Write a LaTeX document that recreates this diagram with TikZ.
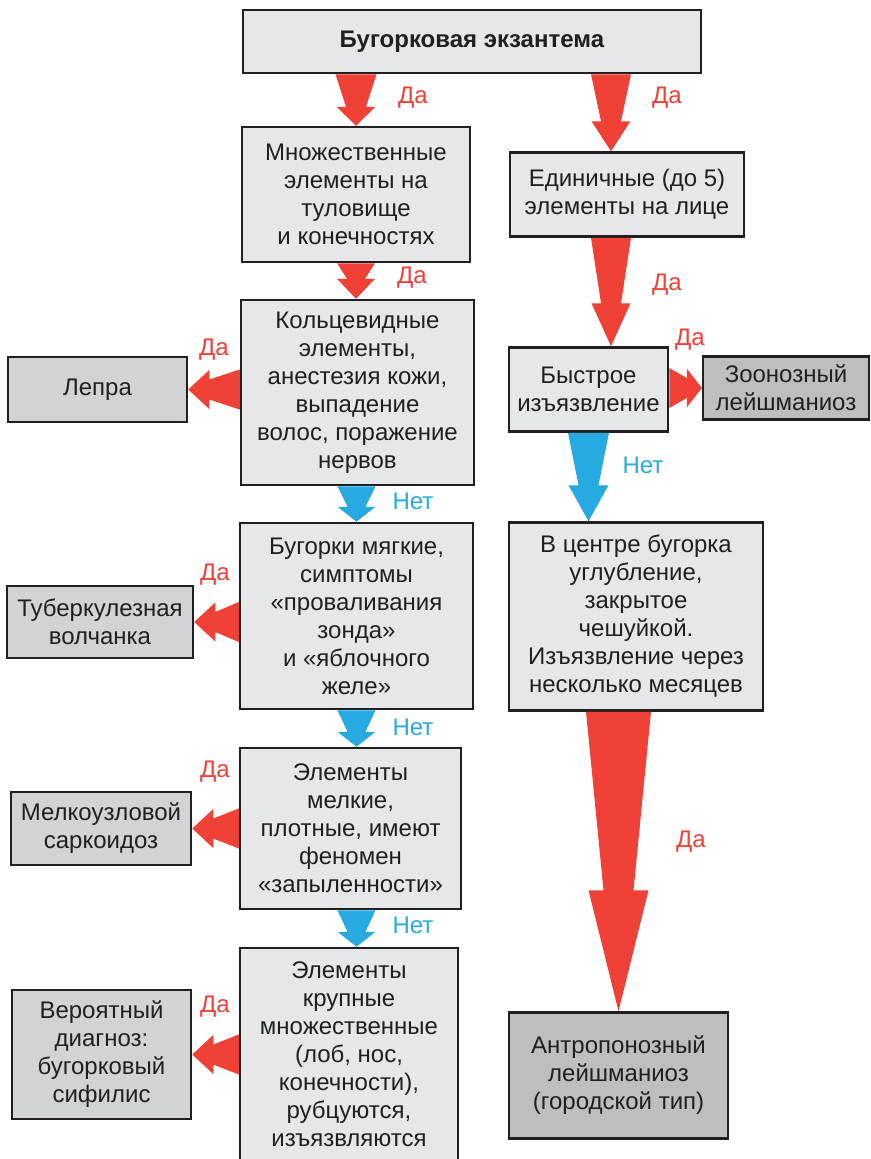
\documentclass[tikz,border=0pt]{standalone}
\usepackage{fontspec}
\setmainfont{Liberation Sans}
\usetikzlibrary{calc}

\definecolor{dared}{HTML}{EF4136}
\definecolor{netblue}{HTML}{27AAE1}
\definecolor{boxgray}{HTML}{E6E7E8}
\definecolor{diaggray}{HTML}{D1D3D4}
\definecolor{endgray}{HTML}{BCBEC0}
\definecolor{ink}{HTML}{231F20}

% tapered block arrow: [colour]{from}{to}{half width at start}{half width at head}{half width of head}{head length}
\newcommand{\fatarrow}[7][dared]{%
  \coordinate (fa-a) at (#2);
  \coordinate (fa-b) at (#3);
  \coordinate (fa-h) at ($(fa-b)!#7pt!(fa-a)$);
  \fill[#1] ($(fa-a)!#4pt!90:(fa-b)$) -- ($(fa-h)!#5pt!90:(fa-b)$) -- ($(fa-h)!#6pt!90:(fa-b)$) -- (fa-b)
    -- ($(fa-h)!#6pt!-90:(fa-b)$) -- ($(fa-h)!#5pt!-90:(fa-b)$) -- ($(fa-a)!#4pt!-90:(fa-b)$) -- cycle;
}

\begin{document}
\begin{tikzpicture}[
  x=1pt, y=1pt,
  box/.style={rectangle, draw=ink, line width=2.5pt, fill=boxgray, text=ink, align=center, inner sep=0pt, font=\fontsize{24}{28}\selectfont},
  diag/.style={box, fill=diaggray},
  final/.style={box, fill=endgray},
  yes/.style={text=dared, font=\fontsize{24}{28}\selectfont},
  no/.style={text=netblue, font=\fontsize{24}{28}\selectfont}
]
\useasboundingbox (0,0) rectangle (870,-1159);

\node[box, minimum width=458pt, minimum height=63pt] (top) at (472,-41.5) {\textbf{Бугорковая экзантема}};
\node[box, below of=top, node distance=153pt, xshift=-116pt, minimum width=228pt, minimum height=135pt] (many) {Множественные\\элементы на\\туловище\\и конечностях};
\node[box, right of=many, node distance=271pt, minimum width=234pt, minimum height=84pt] (single) {Единичные (до 5)\\элементы на лице};
\node[box, below of=many, node distance=198pt, xshift=1.5pt, minimum width=233pt, minimum height=185pt] (ring) {Кольцевидные\\элементы,\\анестезия кожи,\\выпадение\\волос, поражение\\нервов};
\node[diag, left of=ring, node distance=260pt, yshift=3pt, minimum width=179pt, minimum height=65pt] (lepra) {Лепра};
\node[box, below of=single, node distance=195pt, xshift=-38.5pt, minimum width=159pt, minimum height=84pt] (fast) {Быстрое\\изъязвление};
\node[final, right of=fast, node distance=197.5pt, yshift=1.5pt, minimum width=166pt, minimum height=63pt] (zoo) {Зоонозный\\лейшманиоз};
\node[box, below of=ring, node distance=223.5pt, xshift=-1pt, minimum width=233pt, minimum height=186pt] (soft) {Бугорки мягкие,\\симптомы\\«проваливания\\зонда»\\и «яблочного\\желе»};
\node[diag, left of=soft, node distance=256.5pt, yshift=-6pt, minimum width=186pt, minimum height=72pt] (lupus) {Туберкулезная\\волчанка};
\node[box, below of=fast, node distance=227pt, xshift=47.5pt, minimum width=254pt, minimum height=188pt] (pit) {В центре бугорка\\углубление,\\закрытое\\чешуйкой.\\Изъязвление через\\несколько месяцев};
\node[box, below of=soft, node distance=212.5pt, xshift=-6pt, minimum width=221pt, minimum height=161pt] (dense) {Элементы\\мелкие,\\плотные, имеют\\феномен\\«запыленности»};
\node[diag, left of=dense, node distance=249.5pt, minimum width=180pt, minimum height=73pt] (sarc) {Мелкоузловой\\саркоидоз};
\node[box, below of=dense, node distance=225.5pt, xshift=-1.5pt, minimum width=218pt, minimum height=212pt] (large) {Элементы\\крупные\\множественные\\(лоб, нос,\\конечности),\\рубцуются,\\изъязвляются};
\node[diag, left of=large, node distance=247.5pt, yshift=-0.5pt, minimum width=179pt, minimum height=129pt] (syph) {Вероятный\\диагноз:\\бугорковый\\сифилис};
\node[final, below of=pit, node distance=459pt, xshift=-17.5pt, minimum width=219pt, minimum height=126pt] (antr) {Антропонозный\\лейшманиоз\\(городской тип)};

\coordinate (rcol) at ([xshift=-16pt]single.north);

% left column
\fatarrow{top.south -| many}{many.north}{20.5}{10}{19.5}{19}
\fatarrow{many.south}{ring.north -| many}{19}{9}{19}{20}
\fatarrow[netblue]{ring.south -| soft}{soft.north}{19}{9}{19}{15}
\fatarrow[netblue]{soft.south}{soft.south |- dense.north}{19}{9}{19}{15}
\fatarrow[netblue]{dense.south -| soft}{large.north -| soft}{19}{9}{19}{15}
\fatarrow{ring.west |- lepra}{lepra.east}{20}{10}{19.5}{21}
\fatarrow{soft.west |- lupus}{lupus.east}{20}{10}{19.5}{21}
\fatarrow{dense.west |- sarc}{sarc.east}{20}{10}{19.5}{21}
\fatarrow{large.west |- syph}{syph.east}{20}{10}{19.5}{21}

% right column
\fatarrow{top.south -| rcol}{rcol}{20}{10}{19.5}{30}
\fatarrow{single.south -| rcol}{fast.north -| rcol}{20}{10}{19.5}{43}
\fatarrow{fast.east |- zoo}{zoo.west}{20}{10}{19.5}{15}
\fatarrow[netblue]{fast.south}{fast.south |- pit.north}{20.5}{10}{20}{36}
\fatarrow{pit.south -| antr}{antr.north}{32.5}{15}{30}{121}

\node[yes] (y1) at (413,-98) {Да};
\node[yes] (y2) at (667,-98) {Да};
\node[yes] (y3) at (412,-278) {Да};
\node[yes] (y4) at (667,-285) {Да};
\node[yes] (y5) at (690,-340) {Да};
\node[yes] (y6) at (214,-350) {Да};
\node[yes] (y7) at (215,-575) {Да};
\node[yes] (y8) at (215,-772) {Да};
\node[yes] (y9) at (215,-1007) {Да};
\node[yes] (y10) at (691,-842) {Да};
\node[no] (n1) at (413,-501) {Нет};
\node[no] (n2) at (643,-465) {Нет};
\node[no] (n3) at (413,-727) {Нет};
\node[no] (n4) at (413,-925) {Нет};
\end{tikzpicture}
\end{document}
